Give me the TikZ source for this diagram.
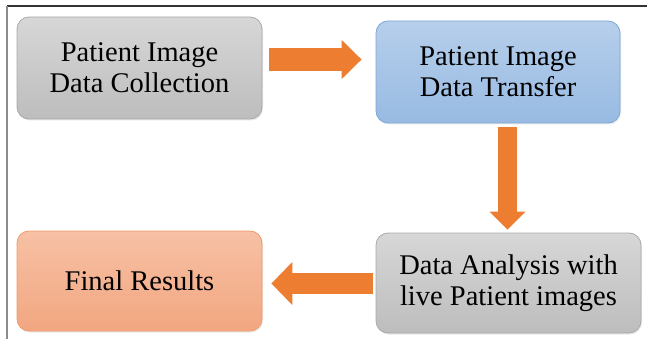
\documentclass[tikz,border=0pt]{standalone}
\usepackage{fontspec}
\setmainfont{Liberation Serif}
\usetikzlibrary{arrows.meta,shadows}

\definecolor{arrowor}{HTML}{ED7D31}
\definecolor{greytop}{HTML}{D7D7D7}
\definecolor{greybot}{HTML}{BDBDBD}
\definecolor{greyedge}{HTML}{A9A9A9}
\definecolor{bluetop}{HTML}{B6CFEB}
\definecolor{bluebot}{HTML}{98BAE2}
\definecolor{blueedge}{HTML}{7CA7D8}
\definecolor{salmtop}{HTML}{F7C1A5}
\definecolor{salmbot}{HTML}{F2A680}
\definecolor{salmedge}{HTML}{F09B6A}

\tikzset{
  stagebox/.style={draw, line width=0.8pt, rounded corners=12pt, align=center,
    font=\fontsize{28.5}{31}\selectfont, inner sep=0pt,
    drop shadow={opacity=0.18, shadow xshift=1pt, shadow yshift=-1.5pt}},
  greybox/.style={stagebox, draw=greyedge, top color=greytop, bottom color=greybot},
  bluebox/.style={stagebox, draw=blueedge, top color=bluetop, bottom color=bluebot},
  salmonbox/.style={stagebox, draw=salmedge, top color=salmtop, bottom color=salmbot},
  fatarrow/.style={draw=arrowor, line width=#1},
}

\begin{document}
\begin{tikzpicture}[x=1pt,y=-1pt]
  \useasboundingbox (0,0) rectangle (647,339);

  % page frame: top and left rules
  \draw[line width=1.2pt, draw=black!80] (7,6) -- (647,6);
  \draw[line width=2pt, draw=black!45] (7,6) -- (7,339);

  % stages
  \node[greybox, minimum width=245pt, minimum height=102pt] (collect) at (139.5,68)
    {Patient Image\\Data Collection};
  \node[bluebox, minimum width=244pt, minimum height=102pt] (transfer) at (498,72)
    {Patient Image\\Data Transfer};
  \node[greybox, minimum width=265pt, minimum height=100pt] (analysis) at (508.5,283)
    {Data Analysis with\\live Patient images};
  \node[salmonbox, minimum width=245pt, minimum height=100pt] (results) at (139.5,281)
    {Final Results};

  % block arrows between the stages
  \draw[fatarrow=23pt, -{Triangle[length=20pt,width=38pt]}]
    ([xshift=7pt,yshift=8.5pt]collect.east) -- ([xshift=-14pt,yshift=12.5pt]transfer.west);
  \draw[fatarrow=19pt, -{Triangle[length=18pt,width=35pt]}]
    ([xshift=9.5pt,yshift=-4pt]transfer.south) -- ([xshift=-1pt,yshift=3pt]analysis.north);
  \draw[fatarrow=21pt, -{Triangle[length=21pt,width=42pt]}]
    ([xshift=-3pt,yshift=-0.5pt]analysis.west) -- ([xshift=9pt,yshift=-2.5pt]results.east);
\end{tikzpicture}
\end{document}
